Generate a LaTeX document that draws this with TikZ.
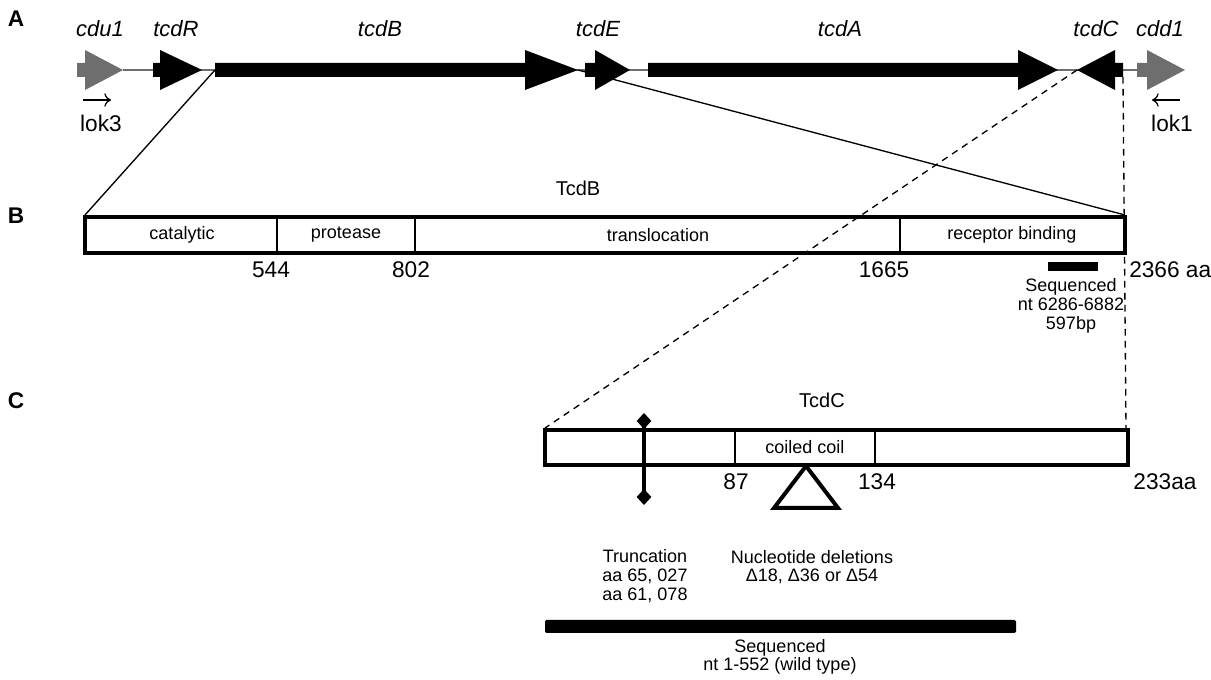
\documentclass[tikz,border=0pt]{standalone}
\usepackage{fontspec}
\setmainfont{Liberation Sans}
\usetikzlibrary{arrows.meta}
\definecolor{pseudogray}{HTML}{6E6E6E}
\tikzset{
    gene/.style={fill=black},
    flank/.style={fill=pseudogray},
    domainbox/.style={line width=3pt, line join=miter},
    divider/.style={line width=0.8pt},
    zoomline/.style={line width=1pt},
    genelabel/.style={font=\fontsize{16.5}{19}\selectfont\itshape},
    domlabel/.style={font=\fontsize{13.5}{16}\selectfont},
    poslabel/.style={font=\fontsize{17}{19}\selectfont},
    note/.style={font=\fontsize{13.5}{14}\selectfont, align=center},
    panel/.style={font=\fontsize{17}{19}\selectfont\bfseries},
    title/.style={font=\fontsize{15}{17}\selectfont},
}
\begin{document}
\begin{tikzpicture}[x=0.75pt, y=-0.75pt]
    \useasboundingbox (0, 0) rectangle (1211, 680);

    % panel A: the locus
    \coordinate (tcdBs) at (215, 70);
    \coordinate (tcdBe) at (578, 70);
    \coordinate (tcdCs) at (1077, 70);
    \coordinate (tcdCe) at (1123, 77);

    \draw [pseudogray, line width=0.8pt] (123, 70) -- (1137, 70);

    \fill [flank] (77, 63) -- (85, 63) -- (85, 50) -- (123, 70) -- (85, 90) -- (85, 77) -- (77, 77) -- cycle;
    \fill [gene] (153, 63) -- (160, 63) -- (160, 50) -- (202, 70) -- (160, 90) -- (160, 77) -- (153, 77) -- cycle;
    \fill [gene] (215, 63) -- (525, 63) -- (525, 50) -- (578, 70) -- (525, 90) -- (525, 77) -- (215, 77) -- cycle;
    \fill [gene] (585, 63) -- (595, 63) -- (595, 50) -- (630, 70) -- (595, 90) -- (595, 77) -- (585, 77) -- cycle;
    \fill [gene] (648, 63) -- (1018, 63) -- (1018, 50) -- (1058, 70) -- (1018, 90) -- (1018, 77) -- (648, 77) -- cycle;
    \fill [gene] (1123, 63) -- (1115, 63) -- (1115, 50) -- (1077, 70) -- (1115, 90) -- (1115, 77) -- (1123, 77) -- cycle;
    \fill [flank] (1137, 63) -- (1147, 63) -- (1147, 50) -- (1185, 70) -- (1147, 90) -- (1147, 77) -- (1137, 77) -- cycle;

    \node [genelabel] (cdu) at (100, 29) {cdu1};
    \node [genelabel] (tcdR) at (176, 29) {tcdR};
    \node [genelabel] (tcdB) at (380, 29) {tcdB};
    \node [genelabel] (tcdE) at (598, 29) {tcdE};
    \node [genelabel] (tcdA) at (840, 29) {tcdA};
    \node [genelabel] (tcdC) at (1096, 29) {tcdC};
    \node [genelabel] (cdd) at (1160, 29) {cdd1};

    \coordinate (lok3a) at (83, 100);
    \coordinate (lok3b) at (111, 100);
    \coordinate (lok1a) at (1180, 100);
    \coordinate (lok1b) at (1152, 100);
    \draw [-{To[length=5pt, width=10pt]}, line width=0.9pt] (lok3a) -- (lok3b);
    \draw [-{To[length=5pt, width=10pt]}, line width=0.9pt] (lok1a) -- (lok1b);
    \node [poslabel] (lok3) at (101, 123) {lok3};
    \node [poslabel] (lok1) at (1172, 123) {lok1};

    % panel B: TcdB
    \coordinate (B1) at (85, 217);
    \coordinate (B2) at (1125, 253);
    \coordinate (B1top) at (85, 215);
    \coordinate (B2top) at (1125, 215);

    \draw [zoomline] (tcdBs) -- (B1top);
    \draw [zoomline] (tcdBe) -- (B2top);

    \draw [divider] (277, 217) -- (277, 253);
    \draw [divider] (415, 217) -- (415, 253);
    \draw [divider] (900, 217) -- (900, 253);
    \draw [domainbox] (B1) rectangle (B2);

    \node [domlabel] (cat) at (182, 235) {catalytic};
    \node [domlabel] (prot) at (346, 235) {protease};
    \node [domlabel] (trans) at (658, 235) {translocation};
    \node [domlabel] (rec) at (1012, 235) {receptor binding};

    \node [poslabel] (p544) at (271, 270) {544};
    \node [poslabel] (p802) at (411, 270) {802};
    \node [poslabel] (p1665) at (884, 270) {1665};
    \node [poslabel, anchor=west, inner sep=0pt] (p2366) at (1129, 270) {2366 aa};
    \node [title] (TcdB) at (578, 188) {TcdB};

    \fill (1048, 262) rectangle (1098, 271);
    \node [note] (seqB) at (1071, 306) {Sequenced\\nt 6286-6882\\597bp};

    % panel C: TcdC
    \coordinate (C1) at (545, 430);
    \coordinate (C2) at (1128, 465);
    \coordinate (C1top) at (545, 428);
    \coordinate (C2top) at (1126, 428);

    \draw [zoomline, dashed, dash pattern=on 5pt off 4pt] (tcdCs) -- (C1top);
    \draw [zoomline, dashed, dash pattern=on 5pt off 4pt] (tcdCe) -- (C2top);

    \draw [divider] (735, 430) -- (735, 465);
    \draw [divider] (875, 430) -- (875, 465);
    \draw [domainbox] (C1) rectangle (C2);

    \node [domlabel] (coil) at (805, 447) {coiled coil};
    \node [poslabel] (p87) at (736, 482) {87};
    \node [poslabel] (p134) at (877, 482) {134};
    \node [poslabel] (p233) at (1165, 482) {233aa};
    \node [title] (TcdC) at (822, 400) {TcdC};

    \draw [line width=2.6pt, {Diamond[length=12pt, width=11pt]}-{Diamond[length=12pt, width=11pt]}] (644, 413) -- (644, 505);
    \draw [line width=3pt, line join=miter] (806, 466) -- (838, 508) -- (774, 508) -- cycle;

    \node [note] (trunc) at (645, 576) {Truncation\\aa 65, 027\\aa 61, 078};
    \node [note] (del) at (812, 567) {Nucleotide deletions\\Δ18, Δ36 or Δ54};

    \fill [rounded corners=1pt] (545, 620) rectangle (1016, 633);
    \node [note] (seqC) at (780, 657) {Sequenced\\nt 1-552 (wild type)};

    \node [panel] (A) at (16, 19) {A};
    \node [panel] (B) at (16, 216) {B};
    \node [panel] (C) at (16, 401) {C};
\end{tikzpicture}
\end{document}
